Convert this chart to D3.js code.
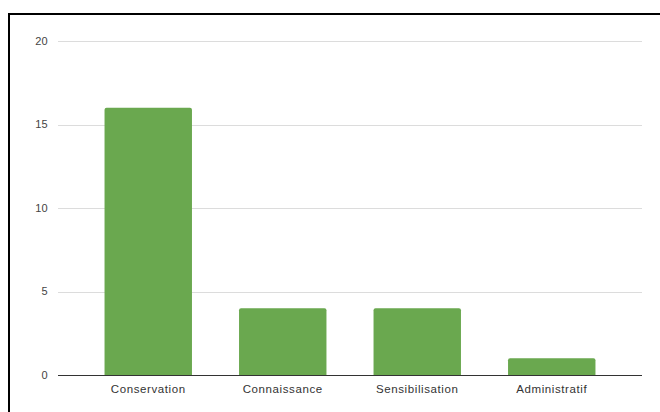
<!DOCTYPE html>
<html><head><meta charset="utf-8">
<script src="https://cdn.jsdelivr.net/npm/d3@7"></script>
<style>body{margin:0;background:#fff}svg{display:block}</style>
</head><body>
<svg id="c" width="660" height="412"></svg>
<script>
const categories = ["Conservation", "Connaissance", "Sensibilisation", "Administratif"];
const values = [16, 4, 4, 1];
const yTicks = [0, 5, 10, 15, 20];

const svg = d3.select("#c");
// frame
svg.append("rect").attr("x", 9).attr("y", 14).attr("width", 700).attr("height", 500)
  .attr("fill", "none").attr("stroke", "#000").attr("stroke-width", 2);

const gridX0 = 58, gridX1 = 642;
const x = d3.scaleBand().domain(categories).range([81, 619]).paddingInner(0.35).paddingOuter(0.175);
const y = d3.scaleLinear().domain([0, 20]).range([375, 41]);

const font = "Arial, 'Liberation Sans', sans-serif";

// grid
svg.append("g").selectAll("line").data(yTicks.filter(d => d !== 0)).join("line")
  .attr("x1", gridX0).attr("x2", gridX1)
  .attr("y1", d => Math.round(y(d)) + 0.5).attr("y2", d => Math.round(y(d)) + 0.5)
  .attr("stroke", "#dcdcdc").attr("stroke-width", 1);

// y labels
svg.append("g").selectAll("text").data(yTicks).join("text")
  .attr("x", 48).attr("y", d => y(d)).attr("dy", "0.35em")
  .attr("text-anchor", "end").attr("font-family", font).attr("font-size", 11)
  .attr("letter-spacing", 0.3)
  .attr("fill", "#444").text(d => d);

// bars
svg.append("g").selectAll("path").data(values).join("path")
  .attr("d", (d, i) => {
    const x0 = x(categories[i]), w = x.bandwidth(), y0 = y(d), y1 = y(0), r = 2;
    return `M${x0},${y1}V${y0 + r}Q${x0},${y0} ${x0 + r},${y0}H${x0 + w - r}Q${x0 + w},${y0} ${x0 + w},${y0 + r}V${y1}Z`;
  })
  .attr("fill", "#6aa84f");

// zero axis line
svg.append("line").attr("x1", gridX0).attr("x2", gridX1)
  .attr("y1", y(0) + 0.5).attr("y2", y(0) + 0.5).attr("stroke", "#333").attr("stroke-width", 1);

// x labels
svg.append("g").selectAll("text").data(categories).join("text")
  .attr("x", d => x(d) + x.bandwidth() / 2).attr("y", 389).attr("dy", "0.35em")
  .attr("text-anchor", "middle").attr("font-family", font).attr("font-size", 11.5)
  .attr("letter-spacing", 0.6)
  .attr("fill", "#333").text(d => d);
</script>
</body></html>
